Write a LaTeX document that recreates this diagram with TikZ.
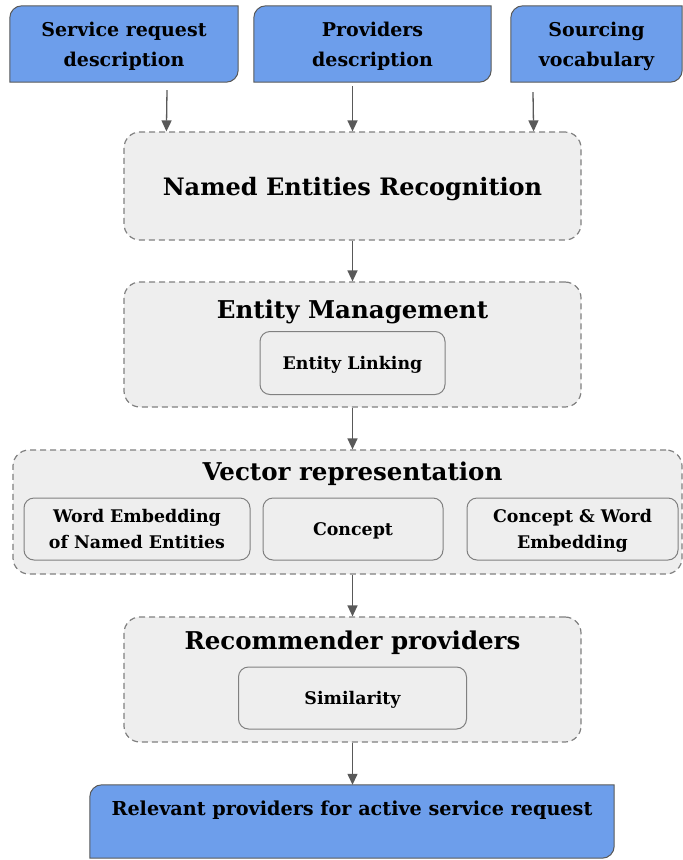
\documentclass[tikz,border=0pt]{standalone}
\usepackage{fontspec}
\setmainfont{DejaVu Serif}
\usetikzlibrary{arrows.meta,backgrounds,calc}
\definecolor{docblue}{HTML}{6D9EEB}
\definecolor{boxgray}{HTML}{EEEEEE}
\definecolor{linegray}{HTML}{595959}
\definecolor{dashgray}{HTML}{808080}

\newcommand{\docshape}[1]{%
    \begin{scope}[on background layer]
    \draw [docline] (#1.south west) -- ([yshift=-12pt]#1.north west)
        arc [start angle=180, end angle=90, radius=12pt] -- (#1.north east)
        -- ([yshift=12pt]#1.south east)
        arc [start angle=0, end angle=-90, radius=12pt] -- cycle;
    \end{scope}}

\begin{document}
\begin{tikzpicture}[x=1pt, y=-1pt,
    doc/.style={minimum width=#1, minimum height=76pt, inner sep=0pt, align=center,
        text depth=0pt, font=\bfseries\fontsize{19}{30}\selectfont},
    docline/.style={draw=linegray, fill=docblue, line width=1pt},
    group/.style={draw=dashgray, fill=boxgray, line width=1.2pt,
        dash pattern=on 6pt off 4pt, rounded corners=16pt, text depth=0pt,
        font=\bfseries\fontsize{24}{28}\selectfont},
    title/.style={text depth=0pt, font=\bfseries\fontsize{24.5}{28}\selectfont},
    part/.style={draw=dashgray, fill=boxgray, line width=1pt, rounded corners=10pt,
        align=center, text depth=0pt, font=\bfseries\fontsize{17.4}{26}\selectfont},
    arr/.style={-{Triangle[length=11pt, width=10pt]}, draw=linegray, line width=1.3pt}]
    \useasboundingbox (0,0) rectangle (683,860);

    \node (sreq) at (124,44) [doc=228pt] {Service request\\description};
    \node (prov) at (372.5,44) [doc=237pt] {Providers\\description};
    \node (vocab) at (596.5,44) [doc=171pt] {Sourcing\\vocabulary};
    \docshape{sreq}
    \docshape{prov}
    \docshape{vocab}

    \node (ner) at (352.5,186) [group, minimum width=457pt, minimum height=108pt] {Named Entities Recognition};

    \node (emgmt) at (352.5,344.5) [group, minimum width=457pt, minimum height=125pt] {};
    \node (emtitle) at (352.5,309) [title] {Entity Management};
    \node (link) at (352.5,363) [part, minimum width=185pt, minimum height=63pt] {Entity Linking};

    \node (vec) at (347.5,512) [group, minimum width=669pt, minimum height=124pt] {};
    \node (vectitle) at (352.5,471) [title] {Vector representation};
    \node (wemb) at (137,529) [part, minimum width=226pt, minimum height=62pt] {Word Embedding\\of Named Entities};
    \node (concept) at (353,529) [part, minimum width=180pt, minimum height=62pt] {Concept};
    \node (cwemb) at (572.5,529) [part, minimum width=211pt, minimum height=62pt] {Concept \& Word\\Embedding};

    \node (recom) at (352.5,679.5) [group, minimum width=457pt, minimum height=125pt] {};
    \node (rectitle) at (352.5,640) [title] {Recommender providers};
    \node (sim) at (352.5,698) [part, minimum width=228pt, minimum height=62pt] {Similarity};

    \node (result) at (352,821.5) [minimum width=524pt, minimum height=73pt] {};
    \docshape{result}
    \node (restext) at (352,808) [text depth=0pt, font=\bfseries\fontsize{19.2}{22}\selectfont] {Relevant providers for active service request};

    \draw [arr] ($(sreq.south)+(43,8)$) -- ($(ner.north west)+(43,0)$);
    \draw [arr] ($(prov.south -| ner.north)+(0,4)$) -- (ner.north);
    \draw [arr] ($(vocab.south)+(-63.5,10)$) -- ($(ner.north east)+(-48,0)$);
    \draw [arr] (ner.south) -- (emgmt.north);
    \draw [arr] (emgmt.south) -- (emgmt.south |- vec.north);
    \draw [arr] (vec.south -| recom.north) -- (recom.north);
    \draw [arr] (recom.south) -- (recom.south |- result.north);
\end{tikzpicture}
\end{document}
